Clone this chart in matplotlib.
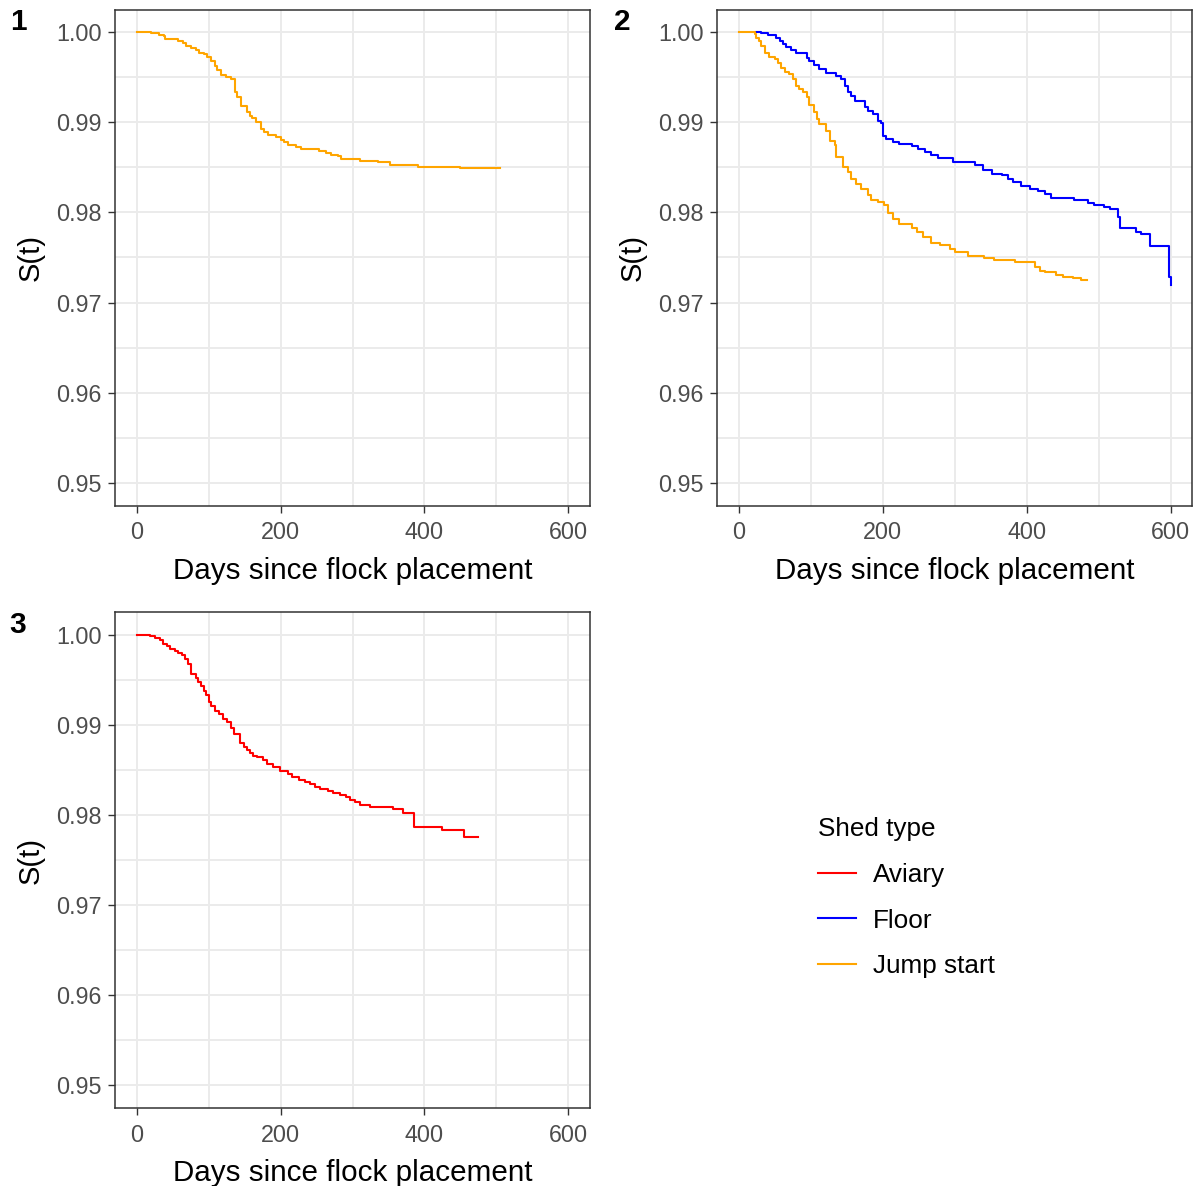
import matplotlib
matplotlib.use("Agg")
import matplotlib.pyplot as plt
from matplotlib.lines import Line2D
from matplotlib.ticker import MultipleLocator

plt.rcParams['font.family'] = ['Liberation Sans', 'DejaVu Sans']

# Kaplan-Meier step curves: day of each step and survival after it
p1_js_days = [0, 20, 31, 38, 40, 57, 64, 68, 75, 82, 87, 94, 98, 103, 109, 112, 117, 124, 131, 137,
              139, 145, 153, 157, 161, 166, 173, 177, 182, 194, 201, 205, 210, 222, 229, 254, 263, 270,
              280, 284, 310, 335, 352, 391, 449, 505]
p1_js_surv = [1.0, 0.99985, 0.9997, 0.99955, 0.9992, 0.9990, 0.9988, 0.99846, 0.9982, 0.9980,
              0.9977, 0.99755, 0.9972, 0.9968, 0.99625, 0.9958, 0.99523, 0.99504, 0.99479, 0.9933,
              0.99283, 0.99176, 0.99117, 0.99073, 0.99043, 0.98999, 0.98926, 0.98889, 0.98863, 0.98833,
              0.98808, 0.98778, 0.98749, 0.9873, 0.98705, 0.98686, 0.98661, 0.98639, 0.9862, 0.98594,
              0.98572, 0.98554, 0.98531, 0.98509, 0.98487, 0.98487]

p2_js_days = [0, 22, 24, 28, 31, 36, 42, 50, 54, 59, 64, 70, 75, 80, 83, 89, 94, 98, 105, 109,
              112, 121, 126, 133, 135, 145, 152, 156, 163, 170, 179, 184, 193, 202, 207, 214, 223, 240,
              247, 256, 267, 279, 293, 300, 318, 341, 355, 383, 411, 418, 425, 441, 450, 464, 476, 483]
p2_js_surv = [1.0, 0.99975, 0.99937, 0.999, 0.99845, 0.99765, 0.99727, 0.99698, 0.99661, 0.99606,
              0.99558, 0.99533, 0.99478, 0.99404, 0.99368, 0.9933, 0.99275, 0.99191, 0.99109, 0.99036,
              0.98981, 0.98907, 0.98797, 0.98742, 0.98613, 0.98502, 0.98447, 0.98374, 0.98319, 0.98263,
              0.9819, 0.98142, 0.98116, 0.9808, 0.97988, 0.97925, 0.97866, 0.97822, 0.97785, 0.9773,
              0.97657, 0.97638, 0.97594, 0.97557, 0.9752, 0.97498, 0.97472, 0.97454, 0.97398, 0.97351,
              0.97336, 0.97307, 0.97288, 0.9727, 0.97252, 0.97252]

p2_floor_days = [24, 31, 40, 52, 57, 61, 66, 73, 80, 95, 98, 105, 112, 121, 135, 142, 148, 152, 156, 161,
                 175, 179, 186, 193, 198, 200, 205, 214, 223, 240, 249, 258, 267, 277, 297, 328, 339, 351,
                 365, 374, 381, 392, 404, 416, 425, 434, 466, 485, 494, 508, 515, 527, 530, 552, 559, 571,
                 597, 600]
p2_floor_surv = [1.0, 0.99985, 0.99963, 0.99937, 0.999, 0.99864, 0.99834, 0.99798, 0.99765, 0.99716,
                 0.9968, 0.99632, 0.99588, 0.99544, 0.99514, 0.99478, 0.99404, 0.99338, 0.99286, 0.99238,
                 0.99164, 0.99128, 0.99091, 0.99018, 0.98992, 0.98852, 0.98815, 0.98786, 0.9876, 0.98734,
                 0.98698, 0.98668, 0.98639, 0.98602, 0.98558, 0.98521, 0.98466, 0.98429, 0.98411, 0.98374,
                 0.98337, 0.98293, 0.98264, 0.98237, 0.98209, 0.9816, 0.98135, 0.98109, 0.98087, 0.98061,
                 0.98043, 0.9795, 0.97829, 0.97785, 0.97756, 0.9763, 0.97288, 0.97197]

p3_av_days = [0, 19, 26, 33, 37, 42, 46, 53, 58, 63, 67, 72, 75, 83, 86, 89, 93, 97, 101, 104,
              109, 114, 120, 126, 131, 135, 144, 149, 153, 158, 162, 167, 175, 181, 190, 199, 211, 216,
              225, 234, 241, 248, 255, 266, 273, 283, 291, 297, 304, 310, 324, 356, 370, 385, 425, 455, 475]
p3_av_surv = [1.0, 0.99982, 0.99963, 0.99934, 0.99896, 0.99871, 0.99845, 0.99823, 0.99797, 0.99768,
              0.9973, 0.99675, 0.99558, 0.9952, 0.99473, 0.99429, 0.99373, 0.99329, 0.99255, 0.99208,
              0.99152, 0.99116, 0.99061, 0.99034, 0.98968, 0.98902, 0.98802, 0.98755, 0.98718, 0.98681,
              0.98655, 0.98637, 0.98608, 0.98564, 0.98526, 0.98482, 0.98453, 0.98423, 0.9839, 0.98368,
              0.98343, 0.98313, 0.98287, 0.98261, 0.98239, 0.98221, 0.98194, 0.98166, 0.98139, 0.98114,
              0.98092, 0.98066, 0.98018, 0.97863, 0.97838, 0.97753, 0.97753]

shed_types = ["Aviary", "Floor", "Jump start"]
shed_colors = {"Aviary": "red", "Floor": "blue", "Jump start": "orange"}

panels = [
    ("1", [("Jump start", p1_js_days, p1_js_surv)]),
    ("2", [("Floor", p2_floor_days, p2_floor_surv), ("Jump start", p2_js_days, p2_js_surv)]),
    ("3", [("Aviary", p3_av_days, p3_av_surv)]),
]

W, H = 1197, 1186
fig = plt.figure(figsize=(W / 100, H / 100), dpi=100)

# axes boxes in pixels: left, top, right, bottom
boxes = [(115, 9.5, 590, 505.5), (717.3, 9.5, 1192.3, 505.5), (115, 612, 590, 1108)]
tag_pos = [(18, 22), (622, 22), (18, 625)]

for (tag, curves), (l, t, r, b), (tx, ty) in zip(panels, boxes, tag_pos):
    ax = fig.add_axes([l / W, 1 - b / H, (r - l) / W, (b - t) / H])
    for name, d, s in curves:
        ax.plot(d, s, drawstyle="steps-post", color=shed_colors[name], lw=1.5, zorder=3)
    ax.set_xlim(-30, 630)
    ax.set_ylim(0.95 - 0.0025, 1.0 + 0.0025)
    ax.xaxis.set_major_locator(MultipleLocator(200))
    ax.xaxis.set_minor_locator(MultipleLocator(100))
    ax.yaxis.set_major_locator(MultipleLocator(0.01))
    ax.yaxis.set_minor_locator(MultipleLocator(0.005))
    ax.set_yticks([0.95, 0.96, 0.97, 0.98, 0.99, 1.00])
    ax.set_yticklabels(["0.95", "0.96", "0.97", "0.98", "0.99", "1.00"])
    ax.grid(which="major", color="#EBEBEB", lw=1.4, zorder=0)
    ax.grid(which="minor", color="#EBEBEB", lw=1.4, zorder=0)
    ax.set_axisbelow(True)
    ax.tick_params(which="major", length=4.8, width=1.0, color="#333333",
                   labelcolor="#4D4D4D", labelsize=16.8, pad=5)
    ax.tick_params(axis="x", which="major", pad=6.5)
    ax.tick_params(which="minor", length=0)
    for sp in ax.spines.values():
        sp.set_color("#333333")
        sp.set_linewidth(1.1)
    ax.set_xlabel("Days since flock placement", fontsize=21.3, labelpad=9)
    ax.set_ylabel("S(t)", fontsize=21, labelpad=8)
    fig.text(tx / W, 1 - ty / H, tag, fontsize=21.5, fontweight="bold",
             ha="center", va="center")

handles = [Line2D([], [], color=shed_colors[n], lw=1.5) for n in shed_types]
fig.legend(handles, shed_types, title="Shed type", loc="upper left",
           bbox_to_anchor=(800 / W, 1 - 799 / H), frameon=False, fontsize=18.8,
           title_fontsize=18.8, alignment="left", handlelength=1.45,
           handletextpad=0.65, labelspacing=0.83, borderpad=0.2)

fig.savefig("out.png", dpi=100)
